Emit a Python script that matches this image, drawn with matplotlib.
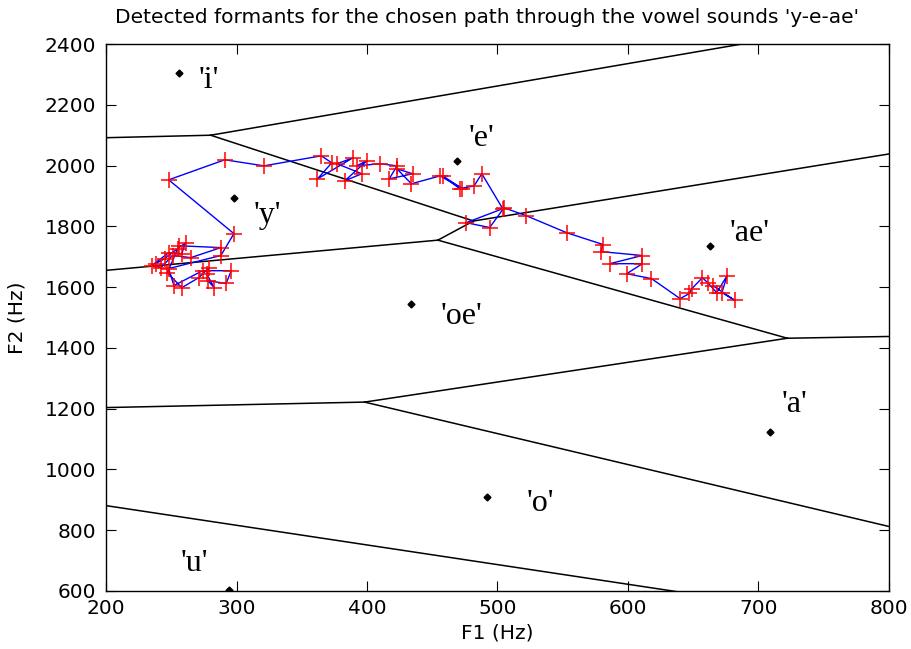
import numpy as np
import matplotlib
matplotlib.use("Agg")
import matplotlib.pyplot as plt
import matplotlib.tri as mtri
from matplotlib import font_manager

# vowel reference points (F1, F2) in Hz
vowels = ["'i'", "'e'", "'y'", "'ae'", "'oe'", "'a'", "'o'", "'u'"]
vowel_f1 = [256, 469, 298, 663, 434, 709, 492, 294]
vowel_f2 = [2305, 2016, 1894, 1736, 1546, 1122, 909, 603]

# detected formants along the path y -> e -> ae
path_f1 = [238, 245, 255, 261, 258, 248, 235, 242, 251, 265,
           288, 256, 247, 258, 271, 279, 277, 283, 278, 292,
           296, 274, 252, 248, 288, 298, 248, 291, 321,
           365, 373, 362, 389, 377, 396, 383, 400, 392, 410,
           423, 417, 435, 423, 434, 456, 473, 458, 471, 482,
           488, 504, 476, 494, 505, 522, 553, 581, 579, 611,
           586, 611, 599, 618, 640, 647, 649, 657, 661, 668,
           676, 672, 682, 665]
path_f2 = [1677, 1694, 1727, 1746, 1710, 1713, 1671, 1664, 1704, 1697,
           1730, 1736, 1648, 1598, 1631, 1664, 1644, 1598, 1621, 1612,
           1654, 1654, 1605, 1661, 1704, 1776, 1953, 2019, 1999,
           2032, 2009, 1956, 2025, 2006, 1973, 1950, 2016, 1999, 2006,
           1999, 1956, 1973, 1989, 1940, 1966, 1924, 1966, 1924, 1933,
           1973, 1858, 1812, 1796, 1861, 1835, 1779, 1740, 1717, 1704,
           1677, 1677, 1644, 1628, 1562, 1579, 1595, 1631, 1615, 1582,
           1638, 1582, 1556, 1605]

# label offsets from the vowel dots (pixels)
label_dx = [30, 24, 33, 39, 50, 24, 53, -34]
label_dy = [-8, 22, -18, 12, -13, 28, -6, 27]

# narrow sans for the axis text if it is there
names = {f.name for f in font_manager.fontManager.ttflist}
axis_font = "Liberation Sans Narrow" if "Liberation Sans Narrow" in names else "DejaVu Sans"
axis_size = 16 if axis_font == "Liberation Sans Narrow" else 14.5

fig = plt.figure(figsize=(9.11, 6.49), dpi=100)
ax = fig.add_axes([0.1164, 0.0894, 0.8594, 0.8428])

# voronoi cells of the vowel points, built from the delaunay triangulation
P = np.column_stack([vowel_f1, vowel_f2]).astype(float)
tri = mtri.Triangulation(P[:, 0], P[:, 1])


def circumcenter(a, b, c):
    d = 2 * (a[0] * (b[1] - c[1]) + b[0] * (c[1] - a[1]) + c[0] * (a[1] - b[1]))
    ux = ((a @ a) * (b[1] - c[1]) + (b @ b) * (c[1] - a[1]) + (c @ c) * (a[1] - b[1])) / d
    uy = ((a @ a) * (c[0] - b[0]) + (b @ b) * (a[0] - c[0]) + (c @ c) * (b[0] - a[0])) / d
    return np.array([ux, uy])


centers = np.array([circumcenter(*P[t]) for t in tri.triangles])
for i, t in enumerate(tri.triangles):
    for k in range(3):
        j = tri.neighbors[i, k]
        a, b = P[t[k]], P[t[(k + 1) % 3]]
        if j > i:
            seg = np.array([centers[i], centers[j]])
        elif j == -1:
            e = b - a
            n = np.array([-e[1], e[0]]) / np.hypot(*e)
            opp = P[t[(k + 2) % 3]]
            if np.dot(opp - (a + b) / 2, n) > 0:
                n = -n
            seg = np.array([centers[i], centers[i] + n * 5000])
        else:
            continue
        ax.plot(seg[:, 0], seg[:, 1], color="black", lw=1.1)

ax.plot(path_f1, path_f2, color="blue", lw=1.0)
ax.plot(path_f1, path_f2, "+", color="red", ms=12, mew=1.1)

ax.plot(vowel_f1, vowel_f2, "D", color="black", ms=3.5)
for name, x, y, dx, dy in zip(vowels, vowel_f1, vowel_f2, label_dx, label_dy):
    ax.annotate(name, (x, y), xytext=(dx, dy), textcoords="offset pixels",
                ha="center", va="center", fontsize=23, family="Liberation Serif")

ax.set_xlim(200, 800)
ax.set_ylim(600, 2400)
ax.set_xticks(range(200, 801, 100))
ax.set_yticks(range(600, 2401, 200))
ax.tick_params(axis="x", direction="in", top=True, length=7, pad=6)
ax.tick_params(axis="y", direction="in", right=True, length=7, pad=7)
for lab in ax.get_xticklabels() + ax.get_yticklabels():
    lab.set_family(axis_font)
    lab.set_fontsize(axis_size)
for s in ax.spines.values():
    s.set_linewidth(1.0)

ax.set_xlabel("F1 (Hz)", fontsize=axis_size, family=axis_font, labelpad=4)
ax.set_ylabel("F2 (Hz)", fontsize=axis_size, family=axis_font, labelpad=13)
ax.set_title("Detected formants for the chosen path through the vowel sounds 'y-e-ae'",
             fontsize=14.5, pad=15, x=0.487)

fig.savefig("out.png", dpi=100)
